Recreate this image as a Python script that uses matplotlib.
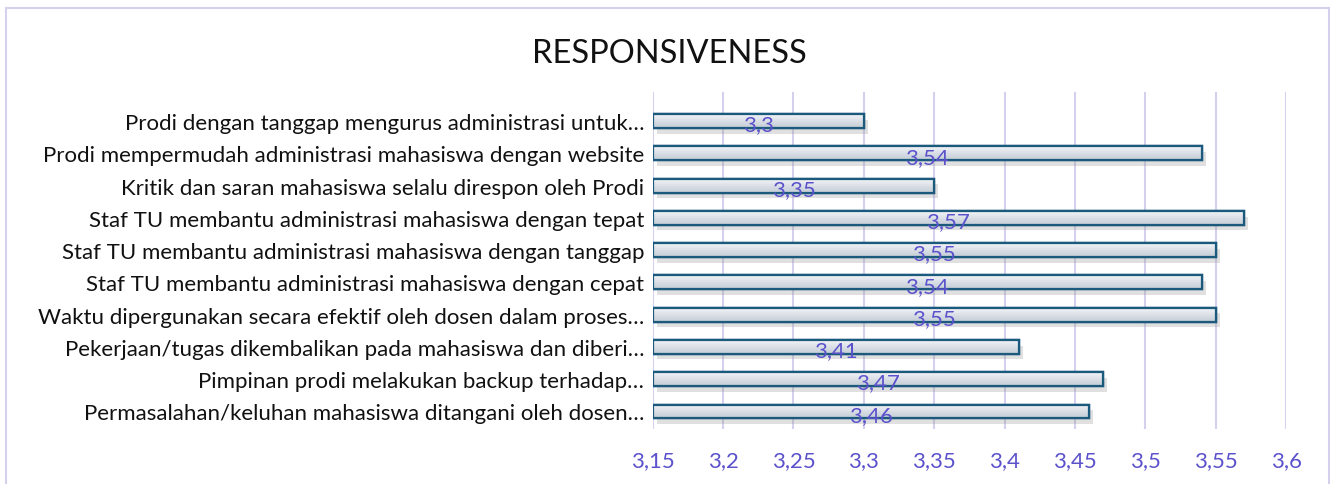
import matplotlib
matplotlib.use('Agg')
import matplotlib.pyplot as plt
import matplotlib.patheffects as pe
import numpy as np

# data, top to bottom as in the chart
labels = [
    'Prodi dengan tanggap mengurus administrasi untuk\u2026',
    'Prodi mempermudah administrasi mahasiswa dengan website',
    'Kritik dan saran mahasiswa selalu direspon oleh Prodi',
    'Staf TU membantu administrasi mahasiswa dengan tepat',
    'Staf TU membantu administrasi mahasiswa dengan tanggap',
    'Staf TU membantu administrasi mahasiswa dengan cepat',
    'Waktu dipergunakan secara efektif oleh dosen dalam proses\u2026',
    'Pekerjaan/tugas dikembalikan pada mahasiswa dan diberi\u2026',
    'Pimpinan prodi melakukan backup terhadap\u2026',
    'Permasalahan/keluhan mahasiswa ditangani oleh dosen\u2026',
]
scores = [3.30, 3.54, 3.35, 3.57, 3.55, 3.54, 3.55, 3.41, 3.47, 3.46]
ticks = [3.15, 3.2, 3.25, 3.3, 3.35, 3.4, 3.45, 3.5, 3.55, 3.6]

plt.rcParams['font.family'] = ['Lato', 'DejaVu Sans']

blue_txt = '#5b52cc'
grid_col = '#d4d0ee'
edge_col = '#1b5a7c'

fig = plt.figure(figsize=(13.32, 4.85), dpi=100)
ax = fig.add_axes([0.490, 0.113, 0.4755, 0.695])

y = np.arange(len(labels))
base = ticks[0]
bars = ax.barh(y, [s - base for s in scores], left=base, height=0.43,
               facecolor='#dde2e8', edgecolor=edge_col, linewidth=1.6, zorder=3)

# vertical gradient in each bar + soft shadow
grad = np.linspace(0, 1, 64).reshape(-1, 1)
cmap = matplotlib.colors.LinearSegmentedColormap.from_list('g', ['#f2f4f7', '#c3cbd5'])
for b in bars:
    b.set_path_effects([pe.withSimplePatchShadow(offset=(3, -4), shadow_rgbFace='#999999', alpha=0.3),
                        pe.Normal()])
    x0, yb = b.get_x(), b.get_y()
    im = ax.imshow(grad, cmap=cmap, aspect='auto', zorder=3.5,
                   extent=(x0, x0 + b.get_width(), yb + b.get_height(), yb))
    im.set_clip_path(b)
    ax.add_patch(matplotlib.patches.Rectangle((x0, yb), b.get_width(), b.get_height(),
                                              fill=False, edgecolor=edge_col, linewidth=1.6, zorder=4))

for yi, s in zip(y, scores):
    ax.text((base + s) / 2, yi + 0.1, f'{s:g}'.replace('.', ','), ha='center', va='center',
            fontsize=16, color=blue_txt, zorder=5)

ax.set_xlim(3.15, 3.6)
ax.set_ylim(len(labels) - 0.45, -0.9)
ax.set_xticks(ticks)
ax.set_xticklabels([f'{t:g}'.replace('.', ',') for t in ticks], color=blue_txt, fontsize=16)
ax.set_yticks(y)
ax.set_yticklabels(labels, fontsize=16, color='#111111')
ax.tick_params(axis='both', length=0)
ax.tick_params(axis='x', pad=15)
ax.tick_params(axis='y', pad=6)
ax.grid(axis='x', color=grid_col, linewidth=1.5, zorder=0)
for sp in ax.spines.values():
    sp.set_visible(False)

fig.text(0.5025, 0.888, 'RESPONSIVENESS', ha='center', va='center', fontsize=23.5, color='#111111')

# chart area border
fig.add_artist(matplotlib.patches.Rectangle((0.0045, -0.05), 0.9935, 1.031, transform=fig.transFigure,
                                            fill=False, edgecolor='#d4d0ee', linewidth=1.5))

fig.savefig('out.png', dpi=100, facecolor='white')
